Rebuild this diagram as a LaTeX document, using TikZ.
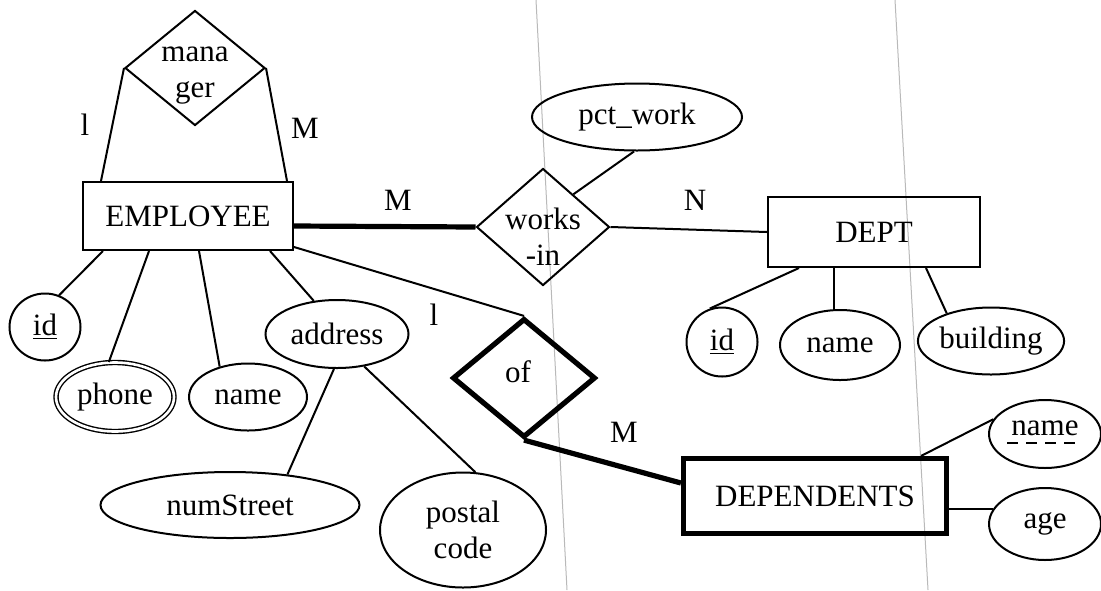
\documentclass[tikz,border=0pt]{standalone}
\usepackage{fontspec}
\setmainfont{Liberation Serif}
\usetikzlibrary{positioning, calc, shapes.geometric}

\begin{document}
\begin{tikzpicture}[x=0.5pt, y=-0.5pt,
    every node/.style={font=\fontsize{15.5}{18}\selectfont},
    entity/.style={rectangle, draw, line width=1pt, inner sep=0pt},
    weakentity/.style={entity, line width=2.6pt},
    attr/.style={ellipse, draw, line width=1pt, inner sep=0pt},
    multiattr/.style={attr, double, line width=0.7pt, double distance=1.3pt},
    rel/.style={diamond, draw, line width=1pt, inner sep=0pt},
    weakrel/.style={rel, line width=2.6pt},
    reltext/.style={align=center, inner sep=0pt},
    card/.style={inner sep=1pt},
    link/.style={line width=1pt},
    total/.style={line width=2.6pt},
    scanline/.style={gray!55, line width=0.5pt}
  ]
  \useasboundingbox (0,0) rectangle (1101,590);

  % folds of the scanned page
  \draw[scanline] (536,0) -- (567,590);
  \draw[scanline] (895,0) -- (928,590);

  % entities
  \node[entity, minimum width=105pt, minimum height=34pt] (emp) at (188,216) {EMPLOYEE};
  \node[entity, minimum width=106pt, minimum height=35pt] (dept) at (874,232) {DEPT};
  \node[weakentity, minimum width=131.5pt, minimum height=37.5pt] (dep) at (815,496) {DEPENDENTS};

  % relationships
  \node[rel, minimum width=70pt, minimum height=57.5pt] (manager) at (195,68) {};
  \node[reltext] (managerlbl) at ([yshift=-4pt]manager.center) {mana\\ger};
  \node[rel, minimum width=66.5pt, minimum height=58.5pt] (works) at (543,227) {};
  \node[reltext] (workslbl) at ([yshift=-5pt]works.center) {works\\-in};
  \node[weakrel, minimum width=71.5pt, minimum height=59.5pt] (of) at (524,378) {};
  \node[reltext] (oflbl) at ([xshift=-3pt,yshift=3pt]of.center) {of};

  % attributes
  \node[attr, minimum width=105pt, minimum height=33.5pt] (pct) at (637,117) {pct\_work};
  \node[attr, minimum width=35.5pt, minimum height=33.5pt] (eid) at (45,327) {\underline{id}};
  \node[multiattr, minimum width=59pt, minimum height=34.5pt] (phone) at (115,397) {phone};
  \node[attr, minimum width=59pt, minimum height=33.5pt] (ename) at (248,397) {name};
  \node[attr, minimum width=71.5pt, minimum height=34pt] (addr) at (337,334) {address};
  \node[attr, minimum width=129.5pt, minimum height=33pt] (street) at (230,505) {numStreet};
  \node[attr, align=center, minimum width=83pt, minimum height=57.5pt] (postal) at (463,530) {postal\\code};
  \node[attr, minimum width=35.5pt, minimum height=34.5pt] (did) at (722,342) {\underline{id}};
  \node[attr, minimum width=60pt, minimum height=35pt] (dname) at (840,345) {name};
  \node[attr, minimum width=69pt, minimum height=33.5pt] (bld) at (991,341) {building};
  \node[attr, text depth=6pt, minimum width=56pt, minimum height=34pt] (depname) at (1045,434) {name};
  \node[attr, minimum width=56pt, minimum height=36pt] (age) at (1045,524) {age};

  % cardinalities
  \node[card] (mgrone) at (85,125) {l};
  \node[card] (mgrmany) at (305,128) {M};
  \node[card] (worksmany) at (398,200) {M};
  \node[card] (worksn) at (695,200) {N};
  \node[card] (ofone) at (434,315) {l};
  \node[card] (ofmany) at (624,432) {M};

  % relationship lines
  \draw[link] (manager.west) -- ([xshift=9.5pt]emp.north west);
  \draw[link] (manager.east) -- ([xshift=-3.5pt]emp.north east);
  \draw[total] ([yshift=-5pt]emp.east) -- (works.west);
  \draw[link] (works.east) -- (dept.west);
  \draw[link] (pct.265) -- ($(works.north)!0.45!(works.east)$);
  \draw[link] ([yshift=2pt]emp.south east) -- (of.north);
  \draw[total] (of.south) -- ([yshift=6.5pt]dep.west);

  % attribute lines
  \foreach \a/\ang/\off in {eid/66/10.5pt, phone/100/33.5pt, ename/133/58.5pt, addr/125/94pt}
    \draw[link] (\a.\ang) -- ([xshift=\off]emp.south west);
  \draw[link] (street.28) -- (addr.265);
  \draw[link] (postal.78) -- (addr.-50);
  \draw[link] (did.110) -- ([xshift=16pt]dept.south west);
  \draw[link] (dname.100) -- (dname.100 |- dept.south);
  \draw[link] (bld.148) -- ([xshift=-27.5pt]dept.south east);
  \draw[link] (depname.164) -- ([xshift=-14pt]dep.north east);
  \draw[link] (age.164 -| dep.east) -- (age.164);

  % partial key
  \draw[line width=1.3pt, dash pattern=on 5.5pt off 4pt]
    ([xshift=-19pt,yshift=-4.5pt]depname.center) -- ([xshift=15pt,yshift=-4.5pt]depname.center);
\end{tikzpicture}
\end{document}
